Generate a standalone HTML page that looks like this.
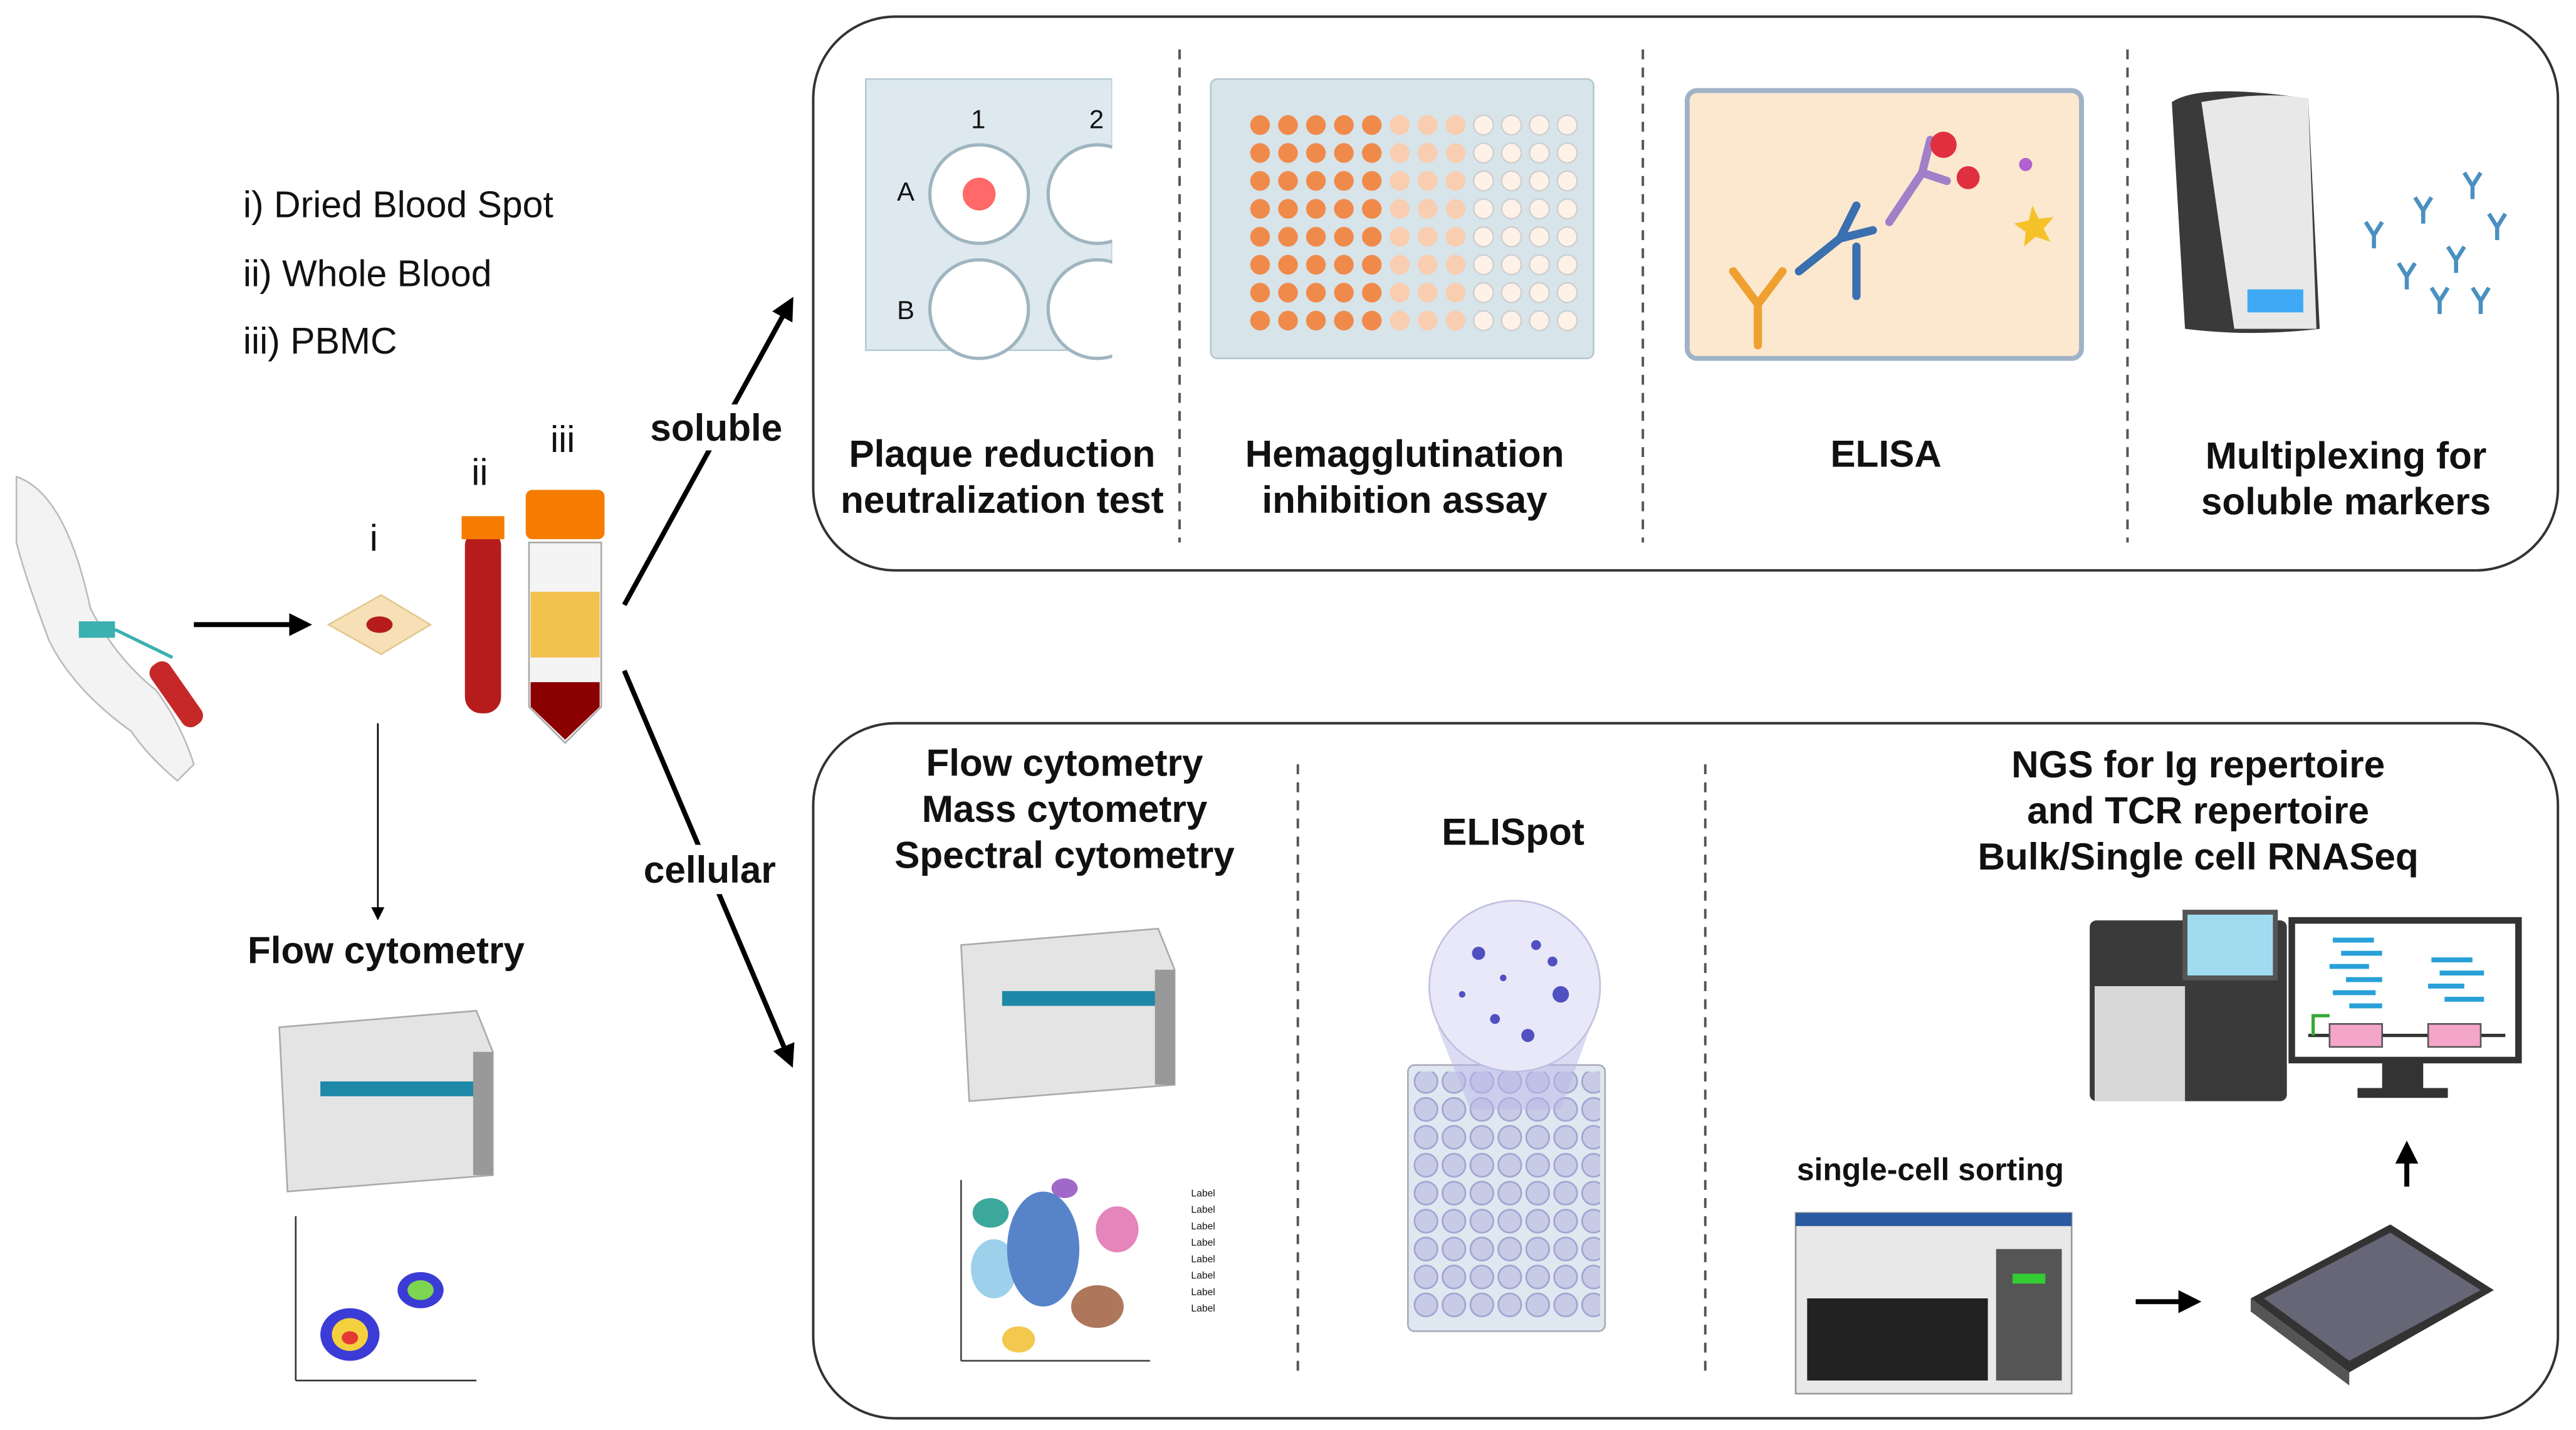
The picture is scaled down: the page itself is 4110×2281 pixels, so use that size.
<!DOCTYPE html>
<html><head><meta charset="utf-8"><style>
html,body{margin:0;padding:0;background:#fff;}
svg{display:block;}
text{font-family:"Liberation Sans",Arial,sans-serif;fill:#111;}
.b{font-weight:bold;font-size:23px;}
</style></head><body>
<svg width="4110" height="2281" viewBox="0 0 1568 870" xmlns="http://www.w3.org/2000/svg">
<defs>
<marker id="ah" markerWidth="8" markerHeight="8" refX="6" refY="4" orient="auto" markerUnits="userSpaceOnUse"><path d="M0,0 L8,4 L0,8 z" fill="#000"/></marker>
<marker id="ah2" markerWidth="14" markerHeight="14" refX="10" refY="7" orient="auto" markerUnits="userSpaceOnUse"><path d="M0,0 L14,7 L0,14 z" fill="#000"/></marker>
<pattern id="wellO" x="760" y="68" width="17" height="17" patternUnits="userSpaceOnUse"><circle cx="7" cy="8" r="6" fill="#f08a4b"/></pattern>
<pattern id="wellL" x="760" y="68" width="17" height="17" patternUnits="userSpaceOnUse"><circle cx="7" cy="8" r="6" fill="#f9cdb0"/></pattern>
<pattern id="wellW" x="760" y="68" width="17" height="17" patternUnits="userSpaceOnUse"><circle cx="7" cy="8" r="6" fill="#fdf1e8" stroke="#ccc" stroke-width="0.8"/></pattern>
<pattern id="wellE" x="860" y="650" width="17" height="17" patternUnits="userSpaceOnUse"><circle cx="8" cy="8" r="7" fill="#c8cbe6" stroke="#9fa4d0"/></pattern>
</defs>
<!-- boxes -->
<rect x="495" y="10" width="1062" height="337" rx="50" fill="none" stroke="#333" stroke-width="1.5"/>
<rect x="495" y="440" width="1062" height="423" rx="50" fill="none" stroke="#333" stroke-width="1.5"/>
<g stroke="#555" stroke-width="1.5" stroke-dasharray="6,5">
<line x1="718" y1="30" x2="718" y2="330"/><line x1="1000" y1="30" x2="1000" y2="330"/><line x1="1295" y1="30" x2="1295" y2="330"/>
<line x1="790" y1="465" x2="790" y2="835"/><line x1="1038" y1="465" x2="1038" y2="835"/>
</g>
<!-- arrows -->
<g stroke="#000" stroke-width="3" fill="none">
<line x1="380" y1="368" x2="481" y2="184" marker-end="url(#ah2)"/>
<line x1="380" y1="408" x2="481" y2="646" marker-end="url(#ah2)"/>
<line x1="118" y1="380" x2="186" y2="380" marker-end="url(#ah2)"/>
<line x1="1300" y1="792" x2="1336" y2="792" marker-end="url(#ah2)"/>
<line x1="1465" y1="722" x2="1465" y2="698" marker-end="url(#ah2)"/>
</g>
<line x1="230" y1="440" x2="230" y2="558" stroke="#000" stroke-width="1" marker-end="url(#ah)"/>
<rect x="394" y="246" width="86" height="28" fill="#fff"/>
<rect x="389" y="514" width="88" height="30" fill="#fff"/>
<!-- left text -->
<g font-size="22.5">
<text x="148" y="132">i) Dried Blood Spot</text>
<text x="148" y="174">ii) Whole Blood</text>
<text x="148" y="215">iii) PBMC</text>
<text x="225" y="335">i</text><text x="287" y="295">ii</text><text x="335" y="275">iii</text>
</g>
<g class="b" text-anchor="middle">
<text x="436" y="268">soluble</text>
<text x="432" y="537">cellular</text>
<text x="235" y="586">Flow cytometry</text>
<text x="610" y="284">Plaque reduction</text><text x="610" y="312">neutralization test</text>
<text x="855" y="284">Hemagglutination</text><text x="855" y="312">inhibition assay</text>
<text x="1148" y="284">ELISA</text>
<text x="1428" y="285">Multiplexing for</text><text x="1428" y="313">soluble markers</text>
<text x="648" y="472">Flow cytometry</text><text x="648" y="500">Mass cytometry</text><text x="648" y="528">Spectral cytometry</text>
<text x="921" y="514">ELISpot</text>
<text x="1338" y="473">NGS for Ig repertoire</text><text x="1338" y="501">and TCR repertoire</text><text x="1338" y="529">Bulk/Single cell RNASeq</text>
<text x="1175" y="718" font-size="19">single-cell sorting</text>
</g>
<!-- arm -->
<path d="M10,290 Q40,300 55,370 Q70,400 95,420 Q110,440 118,465 L108,475 Q90,460 80,445 Q45,420 30,390 Q15,350 10,330 z" fill="#f3f3f3" stroke="#bbb"/>
<rect x="48" y="378" width="22" height="10" fill="#3ab0b0"/>
<line x1="70" y1="383" x2="105" y2="400" stroke="#3ab0b0" stroke-width="2"/>
<rect x="100" y="400" width="14" height="45" rx="6" fill="#c62828" transform="rotate(-35 107 422)"/>
<!-- DBS -->
<path d="M200,380 L232,362 L262,380 L232,398 z" fill="#f7e0b5" stroke="#e2c88f"/>
<ellipse cx="231" cy="380" rx="8" ry="5" fill="#b71c1c"/>
<!-- tubes -->
<rect x="283" y="322" width="22" height="112" rx="10" fill="#b71c1c"/>
<rect x="281" y="314" width="26" height="14" fill="#f57c00"/>
<rect x="320" y="298" width="48" height="30" rx="4" fill="#f57c00"/>
<path d="M322,330 L366,330 L366,430 L344,452 L322,430 z" fill="#f4f4f4" stroke="#aaa"/>
<rect x="323" y="360" width="42" height="40" fill="#f2c14e"/>
<path d="M323,415 L365,415 L365,430 L344,450 L323,430 z" fill="#8b0000"/>
<!-- left flow cytometer -->
<path d="M170,625 L290,615 L300,640 L300,715 L175,725 z" fill="#e4e4e4" stroke="#aaa"/>
<rect x="195" y="658" width="95" height="9" fill="#1e88a8"/>
<rect x="288" y="640" width="12" height="75" fill="#999"/>
<!-- left scatter -->
<line x1="180" y1="740" x2="180" y2="840" stroke="#333"/><line x1="180" y1="840" x2="290" y2="840" stroke="#333"/>
<ellipse cx="213" cy="812" rx="18" ry="16" fill="#3b3bd6"/><ellipse cx="213" cy="812" rx="11" ry="10" fill="#f4d03f"/><ellipse cx="213" cy="814" rx="5" ry="4" fill="#e53935"/>
<ellipse cx="256" cy="785" rx="14" ry="11" fill="#3b3bd6"/><ellipse cx="256" cy="785" rx="8" ry="6" fill="#7cd650"/>
<!-- plaque plate -->
<rect x="527" y="48" width="150" height="165" fill="#dde9ef" stroke="#b8cbd4"/>
<g fill="#fff" stroke="#9fb5c0" stroke-width="2">
<circle cx="596" cy="118" r="30"/><circle cx="668" cy="118" r="30"/><circle cx="596" cy="188" r="30"/><circle cx="668" cy="188" r="30"/>
</g>
<rect x="677" y="40" width="30" height="180" fill="#fff"/>
<circle cx="596" cy="118" r="10" fill="#f44" opacity="0.8"/>
<g font-size="16" fill="#456"><text x="591" y="78">1</text><text x="663" y="78">2</text><text x="546" y="122">A</text><text x="546" y="194">B</text></g>
<!-- HAI plate -->
<rect x="737" y="48" width="233" height="170" rx="4" fill="#d7e4ea" stroke="#b5c6ce"/>
<rect x="760" y="68" width="85" height="136" fill="url(#wellO)"/>
<rect x="845" y="68" width="51" height="136" fill="url(#wellL)"/>
<rect x="896" y="68" width="68" height="136" fill="url(#wellW)"/>
<!-- ELISA -->
<rect x="1027" y="55" width="240" height="163" rx="6" fill="#fce8cf" stroke="#9fb3c8" stroke-width="3"/>
<g stroke-width="5" fill="none" stroke-linecap="round">
<path d="M1070,210 L1070,185 L1055,165 M1070,185 L1085,165" stroke="#f0a030"/>
<path d="M1095,165 L1120,145 L1130,125 M1120,145 L1140,140" stroke="#3a6fb0"/>
<path d="M1130,180 L1130,150" stroke="#3a6fb0"/>
<path d="M1150,135 L1170,105 L1175,85 M1170,105 L1185,110" stroke="#a080c8"/>
</g>
<circle cx="1183" cy="88" r="8" fill="#e03040"/><circle cx="1198" cy="108" r="7" fill="#e03040"/>
<circle cx="1233" cy="100" r="4" fill="#b060d0"/>
<path d="M1237,125 l4,8 9,-1 -6,7 4,8 -9,-3 -7,6 1,-9 -7,-5 9,-2z" fill="#f6c22a"/>
<!-- multiplex -->
<path d="M1322,62 Q1340,50 1405,60 L1412,200 Q1370,205 1330,200 z" fill="#3a3a3a"/>
<path d="M1340,62 Q1380,55 1405,60 L1410,200 L1360,200 z" fill="#e8e8e8"/>
<rect x="1368" y="176" width="34" height="14" fill="#3fa9f5"/>
<g stroke="#4a90c0" stroke-width="2.5" fill="none">
<path d="M1440,135 l5,8 5,-8 M1445,143 v8"/><path d="M1470,120 l5,8 5,-8 M1475,128 v8"/><path d="M1500,105 l5,8 5,-8 M1505,113 v8"/>
<path d="M1515,130 l5,8 5,-8 M1520,138 v8"/><path d="M1460,160 l5,8 5,-8 M1465,168 v8"/><path d="M1490,150 l5,8 5,-8 M1495,158 v8"/>
<path d="M1505,175 l5,8 5,-8 M1510,183 v8"/><path d="M1480,175 l5,8 5,-8 M1485,183 v8"/>
</g>
<!-- bottom flow cytometer -->
<path d="M585,575 L705,565 L715,590 L715,660 L590,670 z" fill="#e4e4e4" stroke="#aaa"/>
<rect x="610" y="603" width="95" height="9" fill="#1e88a8"/>
<rect x="703" y="590" width="12" height="70" fill="#999"/>
<!-- tSNE -->
<line x1="585" y1="718" x2="585" y2="828" stroke="#444"/><line x1="585" y1="828" x2="700" y2="828" stroke="#444"/>
<g opacity="0.85">
<ellipse cx="603" cy="738" rx="11" ry="9" fill="#1a9a8a"/>
<ellipse cx="605" cy="772" rx="14" ry="18" fill="#8cc8e8"/>
<ellipse cx="635" cy="760" rx="22" ry="35" fill="#3a6fc0"/>
<ellipse cx="648" cy="723" rx="8" ry="6" fill="#9050c0"/>
<ellipse cx="680" cy="748" rx="13" ry="14" fill="#e070b0"/>
<ellipse cx="668" cy="795" rx="16" ry="13" fill="#a06040"/>
<ellipse cx="620" cy="815" rx="10" ry="8" fill="#f0c030"/>
</g>
<g font-size="6" fill="#444"><text x="725" y="728">Label</text><text x="725" y="738">Label</text><text x="725" y="748">Label</text><text x="725" y="758">Label</text><text x="725" y="768">Label</text><text x="725" y="778">Label</text><text x="725" y="788">Label</text><text x="725" y="798">Label</text></g>
<!-- ELISpot -->
<rect x="857" y="648" width="120" height="162" rx="4" fill="#dfe7f0" stroke="#aab"/>
<rect x="860" y="652" width="114" height="150" fill="url(#wellE)"/>
<path d="M875,625 L968,625 L950,675 L895,675 z" fill="#b8b8ea" opacity="0.5"/>
<circle cx="922" cy="600" r="52" fill="#e8e8f8" stroke="#c0c0e0"/>
<g fill="#5050c0"><circle cx="900" cy="580" r="4"/><circle cx="935" cy="575" r="3"/><circle cx="950" cy="605" r="5"/><circle cx="910" cy="620" r="3"/><circle cx="930" cy="630" r="4"/><circle cx="890" cy="605" r="2"/><circle cx="945" cy="585" r="3"/><circle cx="915" cy="595" r="2"/></g>
<!-- sorter -->
<rect x="1093" y="738" width="168" height="110" fill="#e8e8e8" stroke="#999"/>
<rect x="1093" y="738" width="168" height="8" fill="#2a5aa0"/>
<rect x="1100" y="790" width="110" height="50" fill="#222"/>
<rect x="1215" y="760" width="40" height="80" fill="#555"/>
<rect x="1225" y="775" width="20" height="6" fill="#3c3"/>
<!-- 384 plate -->
<path d="M1370,790 L1455,745 L1518,785 L1430,835 z" fill="#333"/>
<path d="M1378,790 L1455,750 L1510,785 L1430,828 z" fill="#667"/>
<path d="M1370,790 L1430,835 L1430,843 L1370,798 z" fill="#555"/>
<!-- sequencer -->
<rect x="1272" y="560" width="120" height="110" rx="4" fill="#3a3a3a"/>
<rect x="1330" y="555" width="55" height="40" fill="#9fdcf0" stroke="#555" stroke-width="3"/>
<rect x="1275" y="600" width="55" height="70" fill="#d8d8d8"/>
<!-- monitor -->
<rect x="1395" y="560" width="138" height="85" fill="#fff" stroke="#333" stroke-width="4"/>
<rect x="1450" y="645" width="25" height="18" fill="#333"/><rect x="1435" y="662" width="55" height="6" fill="#333"/>
<g stroke="#29a0d8" stroke-width="3">
<line x1="1420" y1="572" x2="1445" y2="572"/><line x1="1425" y1="580" x2="1450" y2="580"/><line x1="1418" y1="588" x2="1442" y2="588"/><line x1="1428" y1="596" x2="1450" y2="596"/><line x1="1420" y1="604" x2="1446" y2="604"/><line x1="1430" y1="612" x2="1450" y2="612"/>
<line x1="1480" y1="584" x2="1505" y2="584"/><line x1="1485" y1="592" x2="1512" y2="592"/><line x1="1478" y1="600" x2="1500" y2="600"/><line x1="1488" y1="608" x2="1512" y2="608"/>
</g>
<line x1="1405" y1="630" x2="1525" y2="630" stroke="#333" stroke-width="2"/>
<rect x="1418" y="623" width="32" height="14" fill="#f3a6c8" stroke="#555"/><rect x="1478" y="623" width="32" height="14" fill="#f3a6c8" stroke="#555"/>
<path d="M1408,630 v-12 h10" stroke="#3a3" stroke-width="2" fill="none"/>
</svg>
</body></html>
